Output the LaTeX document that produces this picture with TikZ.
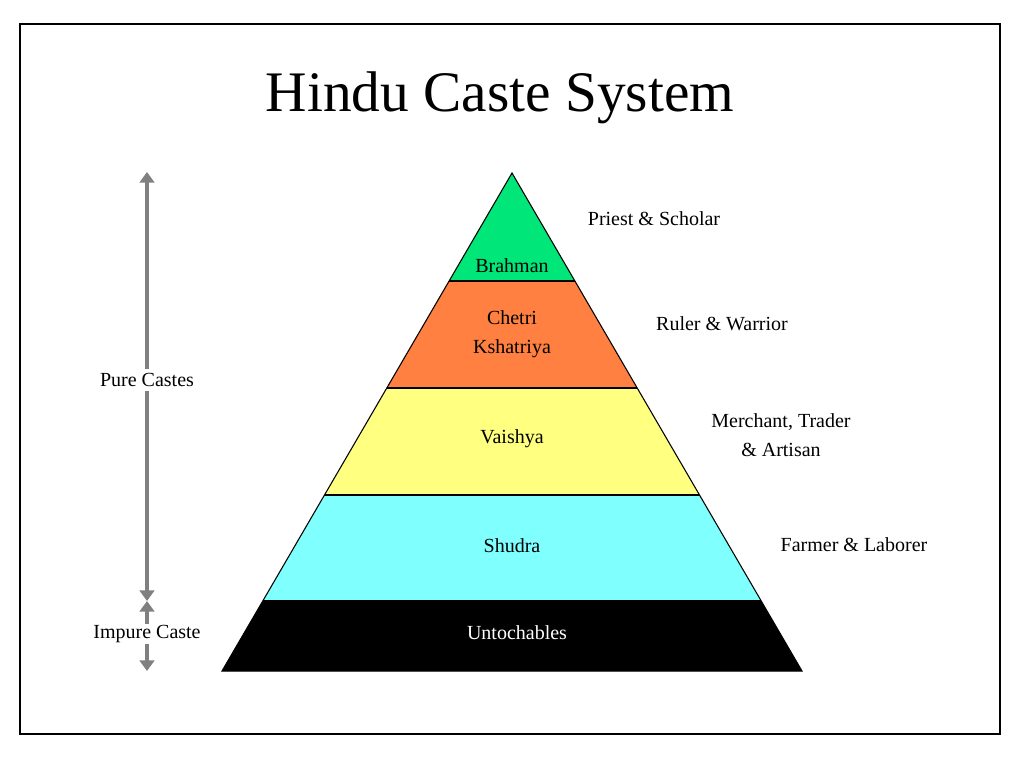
\documentclass[tikz,border=0pt]{standalone}
\usepackage{fontspec}
\setmainfont{Liberation Serif}
\usetikzlibrary{arrows.meta}
\definecolor{brahman}{RGB}{0,230,120}
\definecolor{chetri}{RGB}{255,128,64}
\definecolor{vaishya}{RGB}{255,255,128}
\definecolor{shudra}{RGB}{128,255,255}
\definecolor{arrowgray}{RGB}{128,128,128}
\tikzset{
  label/.style={font=\fontsize{15}{20}\selectfont, align=center},
  band/.style={draw=black, line width=0.8pt},
  span/.style={draw=arrowgray, line width=3.5pt, -{Triangle[width=11pt,length=8pt]}}
}
\begin{document}
\begin{tikzpicture}[x=0.75pt,y=-0.75pt]
\useasboundingbox (0,0) rectangle (1024,768);
\fill[white] (0,0) rectangle (1024,768);
\draw[line width=0.8pt] (20,24) rectangle (1000,734);

% title
\node[font=\fontsize{43}{50}\selectfont] (title) at (500,98) {Hindu Caste System};

% pyramid bands
\begin{scope}
\clip (512,173) -- (802,671) -- (222,671) -- cycle;
\fill[brahman] (200,170) rectangle (820,281);
\fill[chetri] (200,281) rectangle (820,388);
\fill[vaishya] (200,388) rectangle (820,495);
\fill[shudra] (200,495) rectangle (820,601);
\fill[black] (200,601) rectangle (820,672);
\foreach \y in {281,388,495,601}
  \draw[line width=0.8pt] (200,\y) -- (820,\y);
\end{scope}
\draw[band] (512,173) -- (802,671) -- (222,671) -- cycle;

% caste names
\node[label] (brahman) at (512,266) {Brahman};
\node[label] (chetri) at (512,334) {Chetri\\[2pt]Kshatriya};
\node[label] (vaishya) at (512,439) {Vaishya};
\node[label] (shudra) at (512,546) {Shudra};
\node[label, text=white] (untouch) at (517,633) {Untochables};

% roles
\node[label] (priest) at (654,219) {Priest \& Scholar};
\node[label] (ruler) at (722,324) {Ruler \& Warrior};
\node[label] (merchant) at (781,435) {Merchant, Trader\\[2pt]\& Artisan};
\node[label] (farmer) at (854,545) {Farmer \& Laborer};

% left side spans
\node[label] (pure) at (147,380) {Pure Castes};
\node[label, inner sep=1pt] (impure) at (147,634) {Impure Caste};
\coordinate (puretop) at (147,172);
\coordinate (purebot) at (147,601);
\coordinate (imptop) at (147,601);
\coordinate (impbot) at (147,671);
\draw[span] (pure.north) -- (puretop);
\draw[span] (pure.south) -- (purebot);
\draw[span] (impure.north) -- (imptop);
\draw[span] (impure.south) -- (impbot);
\end{tikzpicture}
\end{document}
